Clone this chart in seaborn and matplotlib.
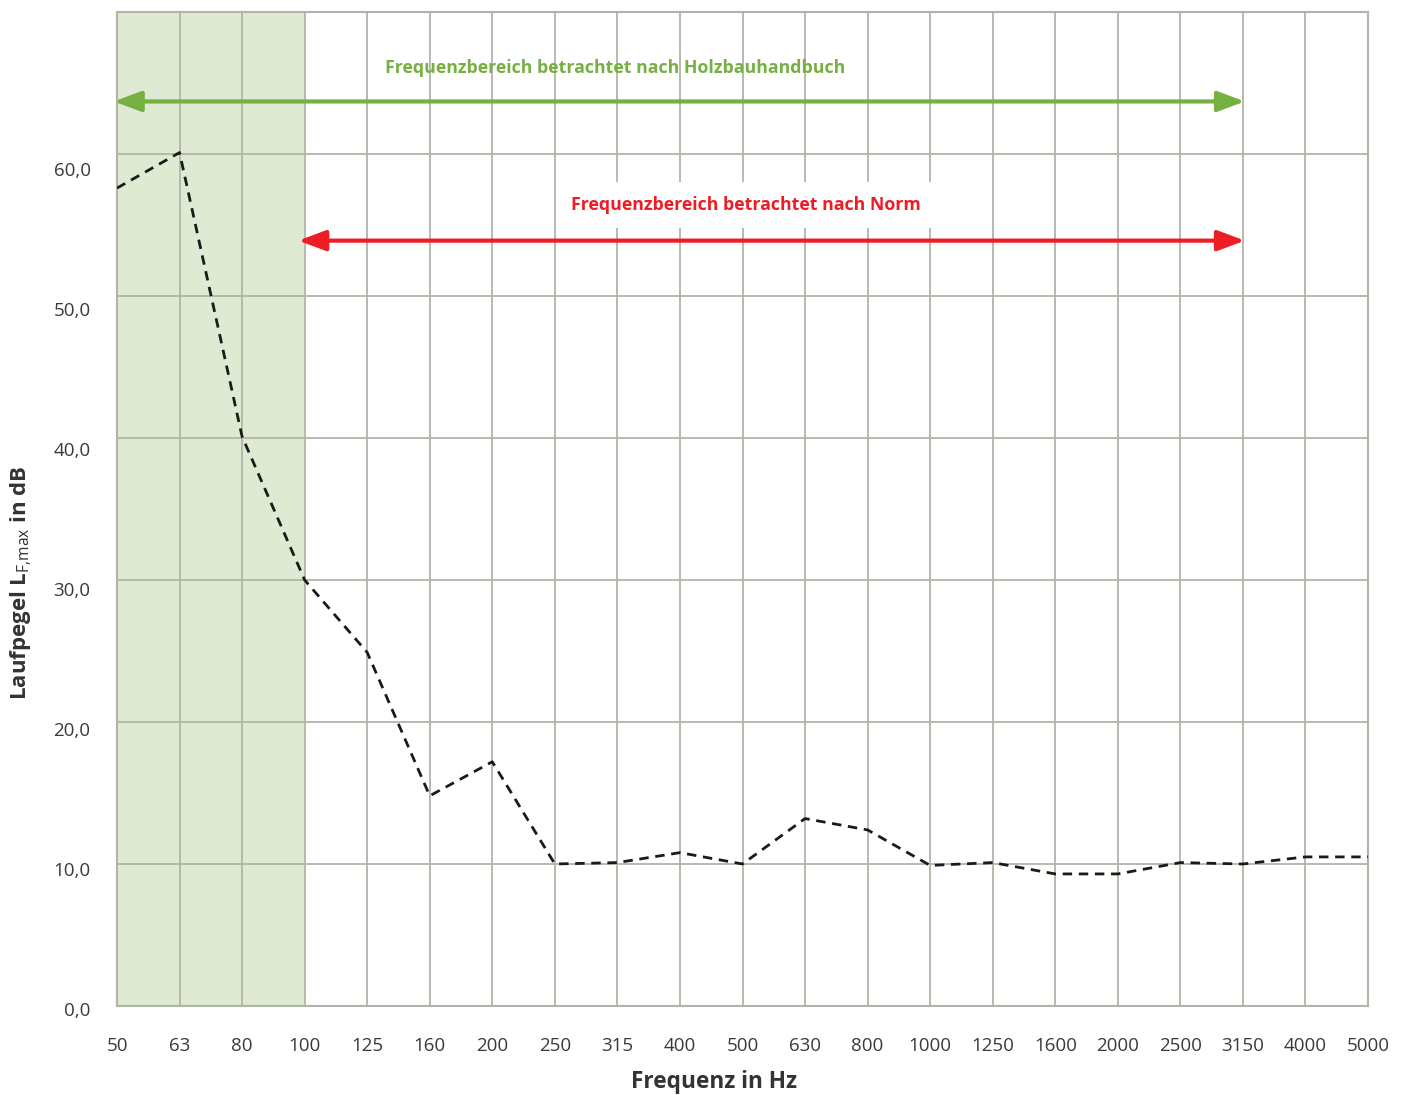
import matplotlib
matplotlib.use("Agg")
import matplotlib.pyplot as plt
import matplotlib.transforms as mtransforms
from matplotlib.patches import FancyArrowPatch
import seaborn as sns
import pandas as pd

frequencies = ["50", "63", "80", "100", "125", "160", "200", "250", "315", "400", "500",
               "630", "800", "1000", "1250", "1600", "2000", "2500", "3150", "4000", "5000"]
levels = [57.6, 60.1, 40.1, 30.0, 24.9, 14.8, 17.2, 10.0, 10.1, 10.8, 10.0,
          13.2, 12.4, 9.9, 10.1, 9.3, 9.3, 10.1, 10.0, 10.5, 10.5]
y_ticks = [0, 10, 20, 30, 40, 50, 60]
y_tick_labels = ["0,0", "10,0", "20,0", "30,0", "40,0", "50,0", "60,0"]

green_label = "Frequenzbereich betrachtet nach Holzbauhandbuch"
red_label = "Frequenzbereich betrachtet nach Norm"

sns.set_style("white")
FONT = ["Open Sans", "DejaVu Sans"]
plt.rcParams["font.family"] = FONT
plt.rcParams["mathtext.fontset"] = "custom"
plt.rcParams["mathtext.rm"] = "Open Sans"
plt.rcParams["mathtext.bf"] = "Open Sans:bold"

GRID = "#b3b4a7"
GREEN = "#76b043"
RED = "#ee1c25"
FILL = "#dfead3"

fig = plt.figure(figsize=(14.03, 10.95), dpi=100)
ax = fig.add_axes([117 / 1403, 1 - 1006 / 1095, 1251 / 1403, 994 / 1095])

df = pd.DataFrame({"Frequenz": frequencies, "Pegel": levels})

# green shaded low-frequency region (50 .. 100 Hz)
ax.axvspan(0, frequencies.index("100"), color=FILL, zorder=0, lw=0)

sns.lineplot(data=df, x="Frequenz", y="Pegel", sort=False, ax=ax, color="#1a1a1a",
             lw=2.0, linestyle=(0, (3.4, 2.4)), zorder=5)

ax.set_xlim(0, len(frequencies) - 1)
ax.set_ylim(0, 70)
ax.set_xticks(range(len(frequencies)))
ax.set_xticklabels(frequencies)
ax.set_yticks(y_ticks)
ax.set_yticklabels(y_tick_labels)
ax.tick_params(axis="both", length=0, labelsize=13.5, colors="#3a3a3a")
ax.tick_params(axis="x", pad=22)
ax.tick_params(axis="y", pad=19)
for v, lab in zip(y_ticks, ax.get_yticklabels()):
    lab.set_va("center")
    off = (5 + 0.2 * v) / 100.0
    lab.set_transform(lab.get_transform() + mtransforms.ScaledTranslation(0, -off, fig.dpi_scale_trans))

ax.grid(True, color=GRID, lw=1.3, zorder=1)
ax.set_axisbelow(True)
for s in ax.spines.values():
    s.set_visible(True)
    s.set_color(GRID)
    s.set_linewidth(1.5)
ax.set_xlabel("")
ax.set_ylabel("")

# arrows
def dbl_arrow(x0, x1, y, color):
    arr = FancyArrowPatch((x0, y), (x1, y), arrowstyle="<|-|>,head_length=16.5,head_width=6.2",
                          mutation_scale=1, color=color, lw=3.0, shrinkA=0, shrinkB=0, zorder=6)
    ax.add_patch(arr)

dbl_arrow(-0.05, frequencies.index("3150") + 0.03, 63.7, GREEN)
dbl_arrow(frequencies.index("100") - 0.1, frequencies.index("3150") + 0.03, 53.9, RED)

ax.text(7.96, 66.05, green_label, color=GREEN, fontsize=12.8, fontweight="bold",
        ha="center", va="center", zorder=7)
ax.text(10.06, 56.4, red_label, color=RED, fontsize=12.8, fontweight="bold",
        ha="center", va="center", zorder=7,
        bbox=dict(facecolor="white", edgecolor="none", pad=10))

fig.text(714 / 1403, 1 - 1082 / 1095, "Frequenz in Hz", ha="center", va="center",
         fontsize=16.3, fontweight="bold", color="#333333")
fig.text(21 / 1403, 1 - 583 / 1095, r"Laufpegel L$_{\mathrm{F{,}max}}$ in dB", rotation=90,
         ha="center", va="center", fontsize=16, fontweight="bold", color="#333333")

fig.savefig("out.png", dpi=100, facecolor="white")
